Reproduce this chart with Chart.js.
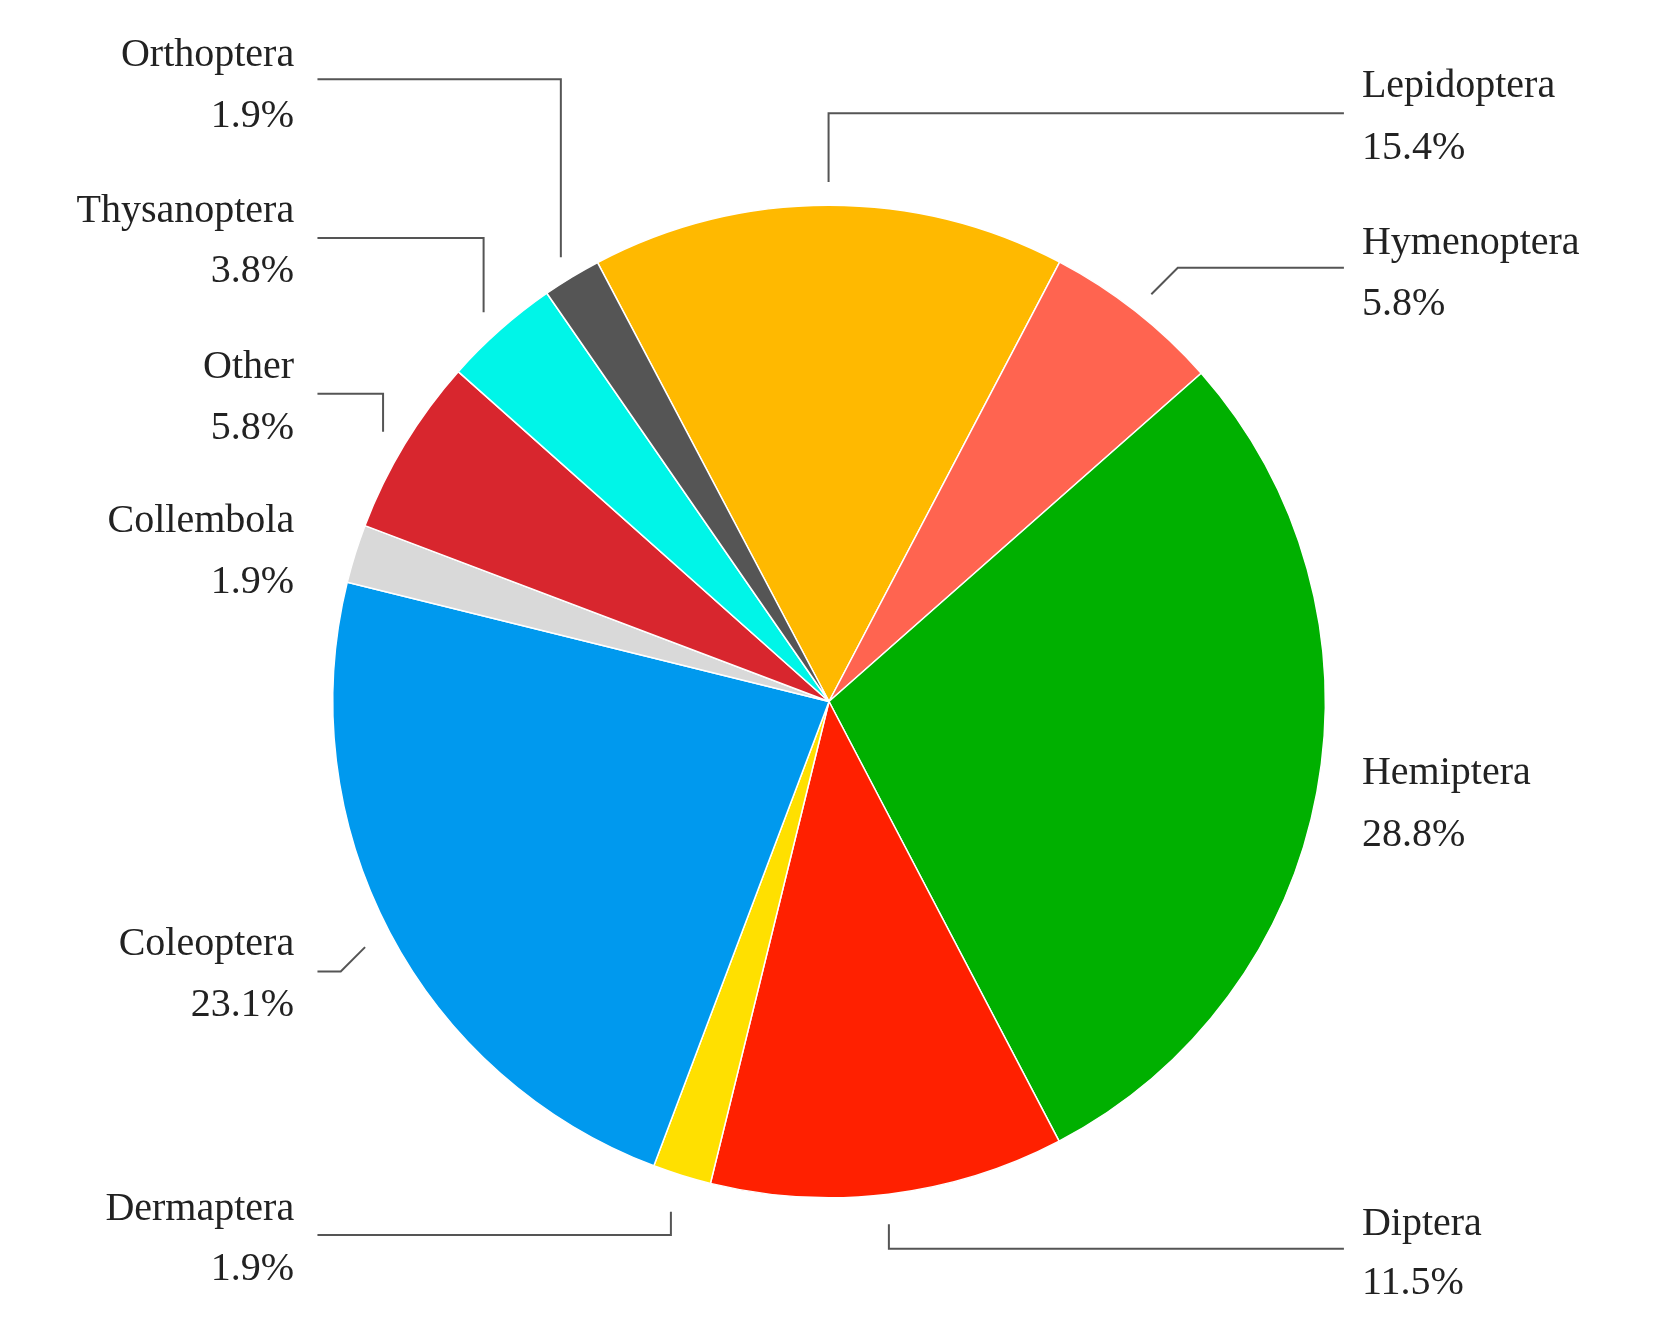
<!DOCTYPE html>
<html><head><meta charset="utf-8">
<script src="https://cdn.jsdelivr.net/npm/chart.js@4/dist/chart.umd.min.js"></script>
<style>html,body{margin:0;background:#fff}#w{width:1659px;height:1323px}</style>
</head><body><div id="w"><canvas id="c"></canvas></div>
<script>
const categories = ["Lepidoptera","Hymenoptera","Hemiptera","Diptera","Dermaptera","Coleoptera","Collembola","Other","Thysanoptera","Orthoptera"];
const values = [15.4,5.8,28.8,11.5,1.9,23.1,1.9,5.8,3.8,1.9];
const colors = ["#FFB900","#FF6450","#00B000","#FF2000","#FFE000","#0099EE","#D9D9D9","#D8262E","#00F5E8","#555555"];

const S = 1/0.945;
// label layout: [side, x, y1, y2, leader polyline]
const labelLayout = {
  Lepidoptera:[1,1287,82,140,[[783,172],[783,107],[1270,107]]],
  Hymenoptera:[1,1287,230,288,[[1088,278],[1113,253],[1270,253]]],
  Hemiptera:[1,1287,731,790,null],
  Diptera:[1,1287,1157,1213,[[840,1157],[840,1180],[1270,1180]]],
  Dermaptera:[0,278,1143,1200,[[634,1145],[634,1167],[300,1167]]],
  Coleoptera:[0,278,893,950,[[345,895],[322,918],[300,918]]],
  Collembola:[0,278,493,550,null],
  Other:[0,278,347,405,[[362,408],[362,372],[300,372]]],
  Thysanoptera:[0,278,200,257,[[457,295],[457,225],[300,225]]],
  Orthoptera:[0,278,52,110,[[530,243],[530,75],[300,75]]]
};

const labelPlugin = {
  id:'labels',
  afterDraw(chart){
    const ctx = chart.ctx;
    ctx.save();
    ctx.font = Math.round(38*S)+'px "Liberation Serif", serif';
    ctx.fillStyle = '#222';
    ctx.strokeStyle = '#555';
    ctx.lineWidth = 2;
    ctx.textBaseline = 'middle';
    categories.forEach((cat,i)=>{
      const L = labelLayout[cat];
      ctx.textAlign = L[0] ? 'left' : 'right';
      ctx.fillText(cat, L[1]*S, L[2]*S);
      ctx.fillText(values[i].toFixed(1)+'%', L[1]*S, L[3]*S);
      if (L[4]) {
        ctx.beginPath();
        L[4].forEach((p,k)=> k ? ctx.lineTo(p[0]*S,p[1]*S) : ctx.moveTo(p[0]*S,p[1]*S));
        ctx.stroke();
      }
    });
    ctx.restore();
  }
};

new Chart(document.getElementById('c'), {
  type:'pie',
  data:{labels:categories, datasets:[{data:values, backgroundColor:colors, borderColor:'#fff', borderWidth:1.5}]},
  options:{
    responsive:true, maintainAspectRatio:false, animation:false,
    rotation:-27.8,
    layout:{padding:{left:332,right:333,top:204,bottom:124}},
    plugins:{legend:{display:false}, tooltip:{enabled:false}}
  },
  plugins:[labelPlugin]
});
</script></body></html>
